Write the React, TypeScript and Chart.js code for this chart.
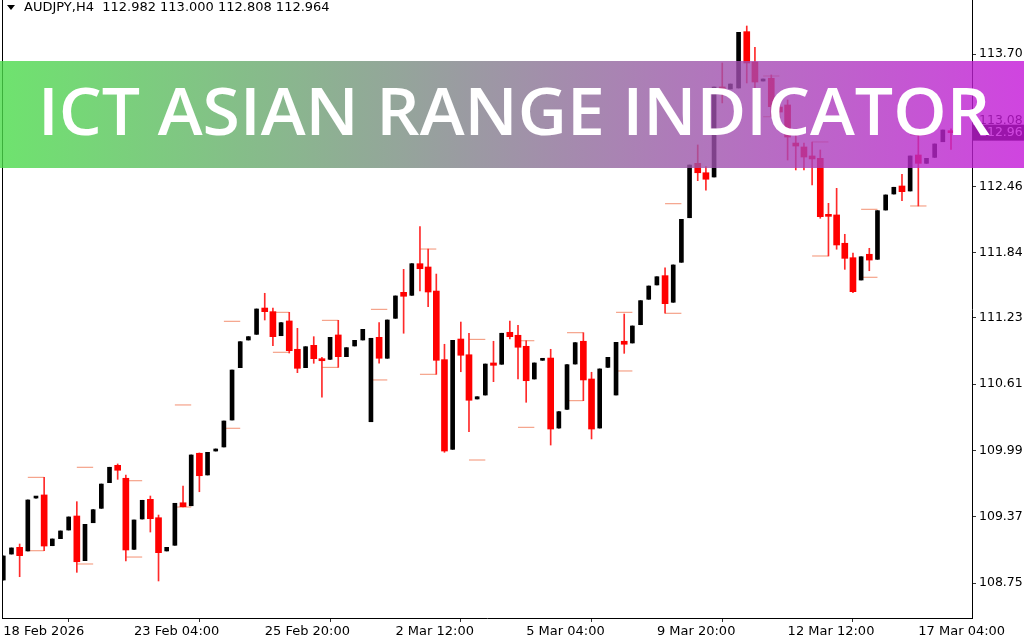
import React, { useEffect, useRef } from "react";
import { Chart, registerables } from "chart.js";

Chart.register(...registerables);

const symbolLabel = "AUDJPY,H4";
const bannerTitle = "ICT ASIAN RANGE INDICATOR";

const xTickIndex = [0, 16, 32, 48, 64, 80, 96, 112];
const xTickLabels = ["18 Feb 2026", "23 Feb 04:00", "25 Feb 20:00", "2 Mar 12:00", "5 Mar 04:00", "9 Mar 20:00", "12 Mar 12:00", "17 Mar 04:00"];
const yTickValues = [113.7, 113.08, 112.46, 111.84, 111.23, 110.61, 109.99, 109.37, 108.75];

const openP = [
  108.778, 109.021, 109.084, 109.05, 109.545, 109.574, 109.099, 109.165, 109.246, 109.377,
  108.959, 109.314, 109.449, 109.689, 109.851, 109.73, 109.065, 109.349, 109.533, 109.361,
  109.05, 109.103, 109.501, 109.473, 109.964, 109.761, 109.985, 110.023, 110.275, 110.765,
  111.024, 111.077, 111.323, 111.289, 111.064, 111.202, 110.937, 110.765, 110.974, 110.849,
  110.843, 111.071, 110.868, 110.968, 111.024, 110.259, 111.049, 110.853, 111.227, 111.47,
  111.442, 111.738, 111.707, 111.482, 110.84, 110.001, 111.033, 110.886, 110.472, 110.509,
  110.809, 110.797, 111.096, 111.068, 110.965, 110.659, 110.834, 110.855, 110.2, 110.375,
  110.799, 111.012, 110.659, 110.2, 110.768, 110.509, 111.012, 110.996, 111.167, 111.405,
  111.539, 111.626, 111.377, 111.751, 112.168, 112.677, 112.589, 112.549, 113.391, 113.373,
  113.382, 113.909, 113.625, 113.447, 113.473, 113.204, 113.223, 112.867, 112.83, 112.746,
  112.724, 112.194, 112.194, 111.929, 111.794, 111.585, 111.826, 111.779, 112.24, 112.39,
  112.465, 112.418, 112.755, 112.677, 112.733, 112.879, 112.982
];
const highP = [
  109.003, 109.078, 109.115, 109.527, 109.555, 109.739, 109.162, 109.237, 109.368, 109.511,
  109.299, 109.436, 109.676, 109.833, 109.864, 109.761, 109.34, 109.524, 109.564, 109.386,
  109.084, 109.496, 109.658, 109.948, 109.967, 109.973, 110.004, 110.266, 110.743, 111.008,
  111.055, 111.314, 111.461, 111.323, 111.186, 111.283, 111.133, 110.961, 111.055, 110.862,
  111.049, 111.208, 110.952, 111.021, 111.124, 111.04, 111.186, 111.211, 111.436, 111.685,
  111.738, 112.084, 111.875, 111.641, 110.984, 111.021, 111.192, 111.087, 110.493, 110.799,
  111.012, 111.087, 111.202, 111.161, 111.017, 110.809, 110.846, 110.937, 110.353, 110.793,
  110.999, 111.092, 110.722, 110.753, 110.862, 111.002, 111.267, 111.155, 111.392, 111.529,
  111.616, 111.7, 111.726, 112.153, 112.661, 112.849, 112.646, 113.391, 113.616, 113.419,
  113.903, 113.962, 113.763, 113.466, 113.504, 113.27, 113.27, 112.961, 112.867, 112.877,
  112.802, 112.303, 112.443, 112.013, 111.838, 111.803, 111.882, 112.234, 112.381, 112.453,
  112.574, 112.746, 112.942, 112.724, 112.858, 112.989, 113.0
];
const lowP = [
  108.778, 109.021, 108.809, 109.05, 109.545, 109.052, 109.099, 109.165, 109.246, 108.85,
  108.959, 109.314, 109.449, 109.689, 109.72, 108.956, 109.065, 109.349, 109.227, 108.769,
  109.05, 109.103, 109.461, 109.473, 109.604, 109.761, 109.985, 110.023, 110.275, 110.765,
  111.024, 111.077, 111.211, 110.971, 111.064, 110.902, 110.718, 110.765, 110.806, 110.488,
  110.843, 110.768, 110.868, 110.968, 111.024, 110.259, 110.806, 110.853, 111.227, 111.087,
  111.442, 111.482, 111.336, 110.703, 109.973, 110.001, 110.727, 110.166, 110.472, 110.509,
  110.634, 110.797, 111.033, 110.659, 110.441, 110.659, 110.834, 110.041, 110.2, 110.375,
  110.799, 110.456, 110.098, 110.2, 110.768, 110.509, 110.899, 110.996, 111.167, 111.405,
  111.539, 111.274, 111.377, 111.751, 112.168, 112.515, 112.427, 112.549, 113.242, 113.373,
  113.382, 113.429, 113.344, 113.447, 113.12, 113.101, 112.708, 112.615, 112.615, 112.474,
  112.163, 111.81, 111.873, 111.685, 111.467, 111.585, 111.672, 111.779, 112.24, 112.39,
  112.327, 112.418, 112.278, 112.677, 112.733, 112.879, 112.808
];
const closeP = [
  109.003, 109.078, 109.006, 109.527, 109.555, 109.096, 109.162, 109.237, 109.368, 108.949,
  109.299, 109.436, 109.676, 109.833, 109.805, 109.059, 109.34, 109.524, 109.352, 109.034,
  109.084, 109.496, 109.464, 109.948, 109.754, 109.973, 110.004, 110.266, 110.743, 111.008,
  111.055, 111.314, 111.289, 111.055, 111.186, 110.924, 110.759, 110.961, 110.849, 110.83,
  111.049, 110.868, 110.952, 111.021, 111.124, 111.04, 110.853, 111.211, 111.436, 111.433,
  111.738, 111.691, 111.473, 110.834, 109.985, 111.021, 110.881, 110.46, 110.493, 110.799,
  110.787, 111.087, 111.055, 110.956, 110.643, 110.809, 110.846, 110.191, 110.353, 110.793,
  110.999, 110.65, 110.191, 110.753, 110.862, 111.002, 110.984, 111.155, 111.392, 111.529,
  111.616, 111.364, 111.726, 112.153, 112.661, 112.589, 112.528, 113.391, 113.373, 113.419,
  113.903, 113.616, 113.438, 113.466, 113.207, 113.157, 112.923, 112.839, 112.736, 112.718,
  112.178, 112.181, 111.913, 111.788, 111.476, 111.803, 111.772, 112.234, 112.381, 112.453,
  112.412, 112.746, 112.677, 112.724, 112.858, 112.989, 112.964
];

const rangeStart = [3, 9, 15, 21, 27, 33, 39, 45, 51, 57, 63, 69, 75, 81, 93, 99, 105, 111];
const rangeHigh = [109.739, 109.833, 109.707, 110.416, 111.199, 111.283, 111.208, 111.311, 111.875, 111.03, 111.017, 111.092, 111.283, 112.299, 113.494, 112.877, 112.247, 112.942];
const rangeLow = [109.052, 108.928, 108.993, 109.461, 110.198, 110.909, 110.768, 110.65, 110.703, 109.901, 110.207, 110.456, 110.734, 111.274, 113.113, 111.81, 111.611, 112.278];

const xMin = -0.159;
const xMax = 118.57;
const yMin = 108.4226;
const yMax = 114.2053;

const BULL = "#000000";
const BEAR = "#ff0000";
const WICK_BEAR = "#ff2a2a";
const RANGE_COLOR = "#f39072";

export default function App() {
  const canvasRef = useRef<HTMLCanvasElement | null>(null);

  useEffect(() => {
    const canvas = canvasRef.current;
    if (!canvas) return;
    const idx = openP.map((_, i) => i);
    const isBull = (i: number) => closeP[i] >= openP[i];

    const rangePoints: any[] = [];
    rangeStart.forEach((s, k) => {
      rangePoints.push({ x: s, y: rangeHigh[k] }, { x: s + 2, y: rangeHigh[k] }, { x: s + 2, y: null });
      rangePoints.push({ x: s, y: rangeLow[k] }, { x: s + 2, y: rangeLow[k] }, { x: s + 2, y: null });
    });

    const last = openP.length - 1;

    const overlay = {
      id: "overlay",
      afterDraw(chart: any) {
        const ctx = chart.ctx;
        const area = chart.chartArea;
        ctx.save();
        ctx.strokeStyle = "#000";
        ctx.lineWidth = 1;
        ctx.beginPath();
        ctx.moveTo(Math.round(area.left) + 0.5, 0);
        ctx.lineTo(Math.round(area.left) + 0.5, area.bottom);
        ctx.stroke();

        ctx.fillStyle = "#000";
        ctx.beginPath();
        ctx.moveTo(7, 5);
        ctx.lineTo(15, 5);
        ctx.lineTo(11, 10);
        ctx.closePath();
        ctx.fill();
        ctx.font = "13px 'DejaVu Sans'";
        ctx.textBaseline = "middle";
        ctx.textAlign = "left";
        const hdr = `${symbolLabel}  ${openP[last].toFixed(3)} ${highP[last].toFixed(3)} ${lowP[last].toFixed(3)} ${closeP[last].toFixed(3)}`;
        ctx.fillText(hdr, 24, 8);

        const yPx = chart.scales.y.getPixelForValue(closeP[last]);
        ctx.fillStyle = "#000";
        ctx.fillRect(area.right + 1, yPx - 8, 60, 16);
        ctx.fillStyle = "#fff";
        ctx.font = "12.5px 'DejaVu Sans'";
        ctx.fillText(closeP[last].toFixed(2), area.right + 7, yPx);

        const W = chart.width;
        const grad = ctx.createLinearGradient(0, 0, W, 0);
        grad.addColorStop(0, "rgba(74,220,74,0.8)");
        grad.addColorStop(1, "rgba(196,22,216,0.8)");
        ctx.fillStyle = grad;
        ctx.fillRect(0, 61, W, 107);

        ctx.fillStyle = "#ffffff";
        ctx.font = "600 66px 'Open Sans'";
        ctx.textBaseline = "alphabetic";
        const tw = ctx.measureText(bannerTitle).width;
        ctx.translate(38, 135);
        ctx.scale(952 / tw, 1);
        ctx.fillText(bannerTitle, 0, 0);
        ctx.restore();
      },
    };

    const chart = new Chart(canvas, {
      type: "bar",
      data: {
        datasets: [
          {
            type: "line",
            data: rangePoints,
            borderColor: RANGE_COLOR,
            borderWidth: 1,
            pointRadius: 0,
            spanGaps: false,
            order: 10,
          } as any,
          {
            data: idx.map((i) => ({ x: i, y: [lowP[i], highP[i]] })),
            backgroundColor: idx.map((i) => (isBull(i) ? BULL : WICK_BEAR)),
            barThickness: 1,
            grouped: false,
            order: 5,
          } as any,
          {
            data: idx.filter((i) => isBull(i)).map((i) => ({ x: i, y: [openP[i], closeP[i]] })),
            backgroundColor: BULL,
            barThickness: 4,
            minBarLength: 2,
            grouped: false,
            order: 1,
          } as any,
          {
            data: idx.filter((i) => !isBull(i)).map((i) => ({ x: i, y: [openP[i], closeP[i]] })),
            backgroundColor: BEAR,
            barThickness: 6,
            minBarLength: 2,
            grouped: false,
            order: 1,
          } as any,
        ],
      },
      options: {
        animation: false,
        responsive: false,
        devicePixelRatio: 1,
        layout: { padding: { left: 2, right: 0, top: 0, bottom: 0 } },
        plugins: { legend: { display: false }, tooltip: { enabled: false } },
        scales: {
          x: {
            type: "linear",
            min: xMin,
            max: xMax,
            offset: false,
            grid: { drawOnChartArea: false, drawTicks: true, tickLength: 4, color: "#333" },
            border: { display: true, color: "#000", width: 1 },
            ticks: {
              align: "start",
              autoSkip: false,
              maxRotation: 0,
              padding: 2,
              color: "#000",
              font: { family: "'DejaVu Sans'", size: 13 },
              callback: (v: any) => {
                const k = xTickIndex.indexOf(Number(v));
                return k >= 0 ? xTickLabels[k] : "";
              },
            },
            afterBuildTicks: (s: any) => {
              s.ticks = xTickIndex.map((v) => ({ value: v }));
            },
            afterFit: (s: any) => {
              s.height = 22;
              s.paddingLeft = 0;
              s.paddingRight = 0;
            },
          },
          y: {
            type: "linear",
            position: "right",
            min: yMin,
            max: yMax,
            grid: { drawOnChartArea: false, drawTicks: true, tickLength: 4, color: "#333" },
            border: { display: true, color: "#000", width: 1 },
            ticks: {
              padding: 3,
              color: "#000",
              font: { family: "'DejaVu Sans'", size: 12.5 },
              callback: (v: any) => Number(v).toFixed(2),
            },
            afterBuildTicks: (s: any) => {
              s.ticks = yTickValues.map((v) => ({ value: v }));
            },
            afterFit: (s: any) => {
              s.width = 52;
              s.paddingTop = 0;
              s.paddingBottom = 0;
            },
          },
        },
      } as any,
      plugins: [overlay],
    });

    return () => chart.destroy();
  }, []);

  return (
    <div style={{ position: "fixed", left: 0, top: 0, width: 1024, height: 640, background: "#fff" }}>
      <canvas ref={canvasRef} width={1024} height={640} style={{ display: "block" }} />
    </div>
  );
}
